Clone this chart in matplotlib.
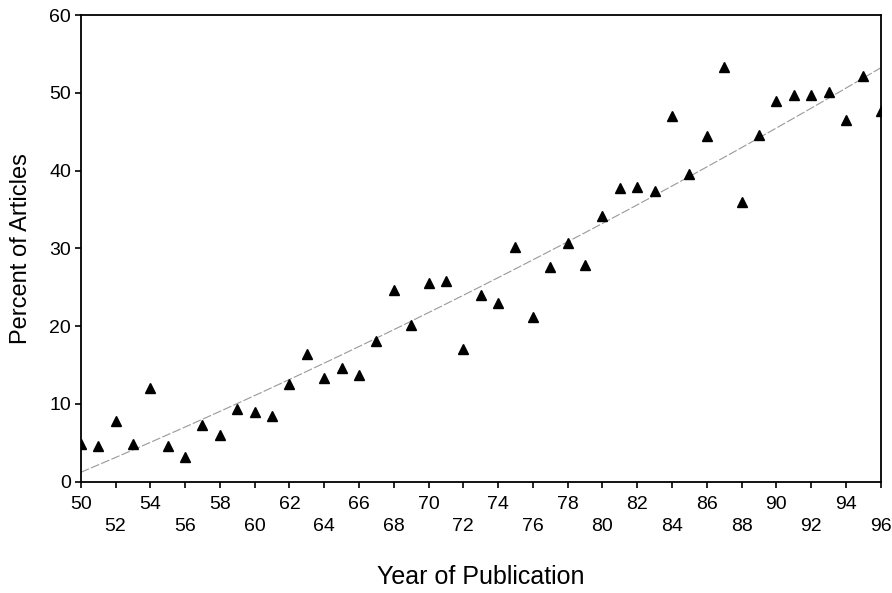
import numpy as np
import matplotlib
matplotlib.use("Agg")
import matplotlib.pyplot as plt

plt.rcParams['font.family'] = ['Liberation Sans', 'DejaVu Sans']

years = [50, 51, 52, 53, 54, 55, 56, 57, 58, 59, 60, 61, 62, 63, 64, 65, 66, 67,
         68, 69, 70, 71, 72, 73, 74, 75, 76, 77, 78, 79, 80, 81, 82, 83, 84, 85,
         86, 87, 88, 89, 90, 91, 92, 93, 94, 95, 96]
percent = [4.8, 4.6, 7.8, 4.8, 12.0, 4.6, 3.2, 7.3, 6.0, 9.3, 9.0, 8.4, 12.6, 16.4,
           13.3, 14.6, 13.7, 18.1, 24.6, 20.1, 25.5, 25.8, 17.1, 24.0, 23.0, 30.2,
           21.2, 27.6, 30.7, 27.8, 34.2, 37.7, 37.9, 37.4, 47.0, 39.6, 44.5, 53.3,
           36.0, 44.6, 49.0, 49.7, 49.7, 50.1, 46.5, 52.2, 47.6]
# trend curve: percent = a + b*(year-50) + c*(year-50)^2
trend_a, trend_b, trend_c = 1.2, 0.947, 0.00399
x_ticks = list(range(50, 97, 2))
y_ticks = [0, 10, 20, 30, 40, 50, 60]

fig = plt.figure(figsize=(8.92, 5.93), dpi=100)
ax = fig.add_axes([0.0905, 0.1877, 0.8968, 0.787])

ax.plot(years, percent, linestyle='none', marker='^', markersize=7,
        color='black', clip_on=True, zorder=3)

xs = np.linspace(min(years), max(years), 200)
t = xs - min(years)
ax.plot(xs, trend_a + trend_b * t + trend_c * t ** 2, color='#999999',
        linewidth=0.8, linestyle=(0, (8, 2)), zorder=2)

ax.set_xlim(50, 96)
ax.set_ylim(0, 60)
ax.set_xticks(x_ticks)
ax.set_xticklabels([str(v) if i % 2 == 0 else '\n' + str(v)
                    for i, v in enumerate(x_ticks)])
for lbl in ax.get_xticklabels():
    lbl.set_linespacing(1.35)
ax.set_yticks(y_ticks)
ax.tick_params(axis='both', direction='out', length=4, width=1.2,
               labelsize=14, colors='black')
ax.tick_params(axis='x', pad=6.5)
ax.tick_params(axis='y', pad=3)
for s in ax.spines.values():
    s.set_linewidth(1.3)

ax.set_xlabel('Year of Publication', fontsize=18, labelpad=22)
ax.set_ylabel('Percent of Articles', fontsize=17, labelpad=12)

fig.savefig('out.png', dpi=100)
